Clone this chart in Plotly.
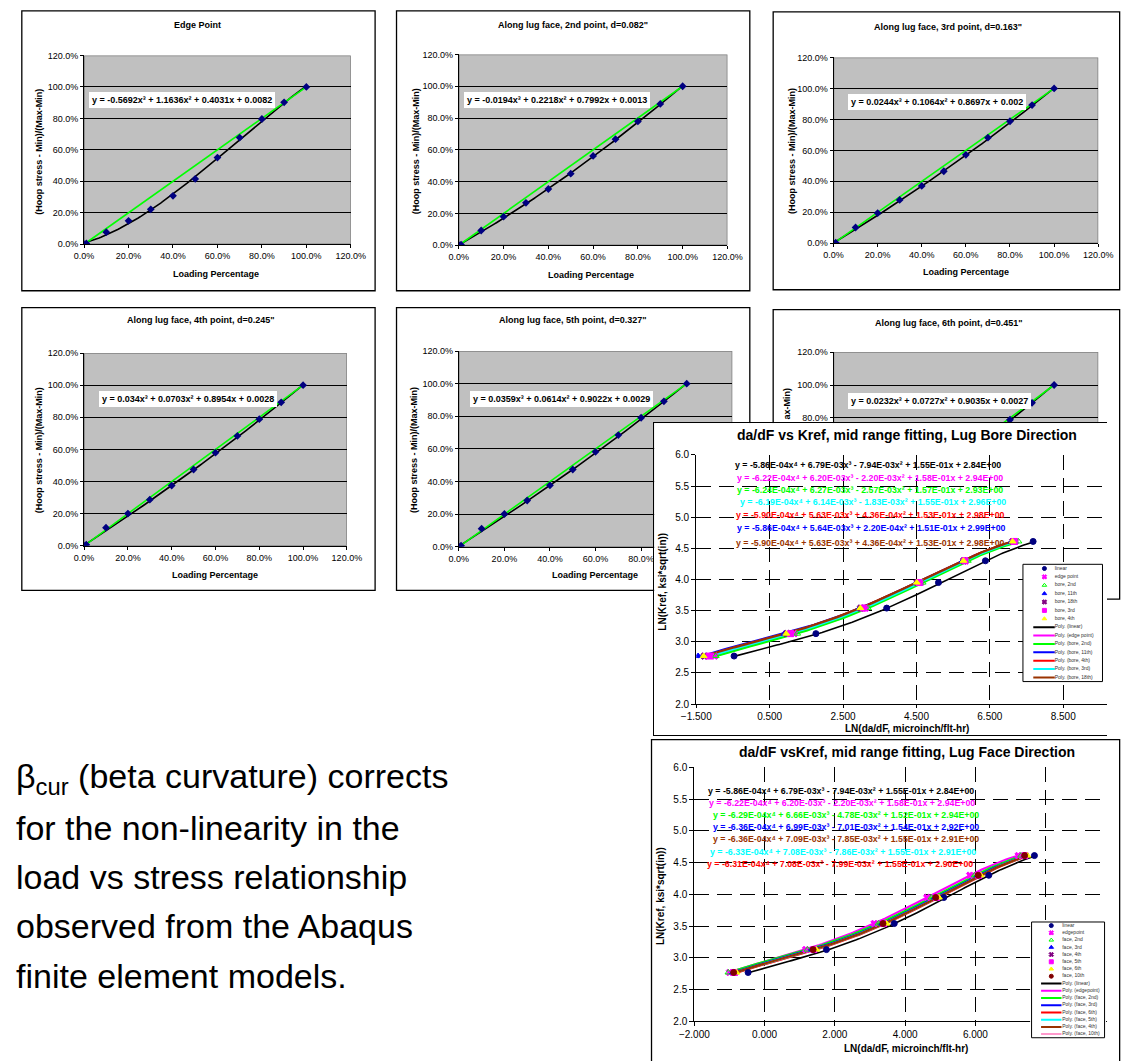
import numpy as np
import plotly.graph_objects as go

W, H = 1122, 1061
FONT = "Liberation Sans, Arial, Helvetica, sans-serif"

# ---------------------------------------------------------------------------
# Six small panels: normalised hoop stress vs loading percentage
# ---------------------------------------------------------------------------
load_pct = [0.0, 0.01, 0.1, 0.2, 0.3, 0.4, 0.5, 0.6, 0.7, 0.8, 0.9, 1.0]

edge_point_stress = [0.0, 0.005, 0.077, 0.149, 0.222, 0.308, 0.415, 0.551, 0.678, 0.796, 0.902, 1.0]
lug_2nd_stress = [0.0, 0.004, 0.093, 0.180, 0.267, 0.354, 0.450, 0.562, 0.667, 0.779, 0.889, 1.0]
lug_3rd_stress = [0.0, 0.004, 0.102, 0.195, 0.280, 0.370, 0.465, 0.571, 0.682, 0.788, 0.892, 1.0]
lug_4th_stress = [0.0, 0.007, 0.113, 0.201, 0.287, 0.375, 0.475, 0.580, 0.684, 0.788, 0.893, 1.0]
lug_5th_stress = [0.0, 0.007, 0.111, 0.201, 0.284, 0.377, 0.474, 0.582, 0.685, 0.791, 0.892, 1.0]
lug_6th_stress = [0.0, 0.006, 0.109, 0.200, 0.285, 0.376, 0.476, 0.581, 0.686, 0.789, 0.892, 1.0]

# cubic trendline coefficients (x^3, x^2, x, const)
edge_point_cubic = [-0.5692, 1.1636, 0.4031, 0.0082]
lug_2nd_cubic = [-0.0194, 0.2218, 0.7992, 0.0013]
lug_3rd_cubic = [0.0244, 0.1064, 0.8697, 0.002]
lug_4th_cubic = [0.034, 0.0703, 0.8954, 0.0028]
lug_5th_cubic = [0.0359, 0.0614, 0.9022, 0.0029]
lug_6th_cubic = [0.0232, 0.0727, 0.9035, 0.0027]

panel_titles = [
    "Edge Point",
    'Along lug face, 2nd point, d=0.082"',
    'Along lug face, 3rd point, d=0.163"',
    'Along lug face, 4th point, d=0.245"',
    'Along lug face, 5th point, d=0.327"',
    'Along lug face, 6th point, d=0.451"',
]

# percentage axis ticks
pct_ticks = [0.0, 0.2, 0.4, 0.6, 0.8, 1.0, 1.2]

# straight 1:1 reference line
linear_ref_x = [0.0, 1.0]
linear_ref_y = [0.0, 1.0]

# ---------------------------------------------------------------------------
# da/dF vs Kref charts
# ---------------------------------------------------------------------------
ln_kref = [2.77, 3.13, 3.54, 3.95, 4.30, 4.61]
linear_ln_dadf = [-0.47, 1.76, 3.69, 5.10, 6.38, 7.68]

bore_edge_point = [-1.00, 1.17, 3.12, 4.62, 5.84, 7.20]
bore_2nd = [-0.97, 1.25, 3.18, 4.67, 5.90, 7.28]
bore_11th = [-1.45, 0.90, 2.95, 4.50, 5.76, 7.10]
bore_18th = [-1.28, 0.97, 2.98, 4.52, 5.79, 7.13]
bore_3rd = [-1.15, 1.07, 3.06, 4.57, 5.82, 7.16]
bore_4th = [-1.30, 0.95, 2.97, 4.51, 5.78, 7.12]

face_edge_point = [-1.00, 1.17, 3.12, 4.62, 5.84, 7.22]
face_2nd = [-1.03, 1.22, 3.24, 4.75, 5.98, 7.30]
face_3rd = [-0.90, 1.35, 3.35, 4.85, 6.07, 7.40]
face_4th = [-0.85, 1.41, 3.40, 4.90, 6.10, 7.42]
face_5th = [-0.86, 1.40, 3.39, 4.89, 6.09, 7.41]
face_6th = [-0.80, 1.47, 3.47, 4.96, 6.15, 7.48]
face_10th = [-0.88, 1.38, 3.37, 4.87, 6.08, 7.40]

# quartic trendline coefficients (x^4 .. const)
poly_linear = [-5.86e-4, 6.79e-3, -7.94e-3, 1.55e-1, 2.84]
poly_edge_point = [-6.22e-4, 6.20e-3, -2.20e-3, 1.58e-1, 2.94]
poly_bore_2nd = [-6.24e-4, 6.27e-3, -2.57e-3, 1.57e-1, 2.93]
poly_bore_3rd = [-6.19e-4, 6.14e-3, -1.83e-3, 1.55e-1, 2.96]
poly_bore_4th = [-5.90e-4, 5.63e-3, 4.36e-4, 1.53e-1, 2.98]
poly_bore_11th = [-5.86e-4, 5.64e-3, 2.20e-4, 1.51e-1, 2.99]
poly_bore_18th = [-5.90e-4, 5.63e-3, 4.36e-4, 1.53e-1, 2.98]
poly_face_2nd = [-6.29e-4, 6.66e-3, -4.78e-3, 1.52e-1, 2.94]
poly_face_3rd = [-6.36e-4, 6.99e-3, -7.01e-3, 1.54e-1, 2.92]
poly_face_4th = [-6.36e-4, 7.09e-3, -7.85e-3, 1.55e-1, 2.91]
poly_face_5th = [-6.33e-4, 7.08e-3, -7.86e-3, 1.55e-1, 2.91]
poly_face_6th = [-6.31e-4, 7.08e-3, -7.99e-3, 1.55e-1, 2.90]

note_lines = [
    "β<sub>cur</sub> (beta curvature) corrects",
    "for the non-linearity in the",
    "load vs stress relationship",
    "observed from the Abaqus",
    "finite element models.",
]

# colours
NAVY, MAGENTA, GREEN, BLUE = "#000080", "#FF00FF", "#00FF00", "#0000FF"
RED, CYAN, BROWN, PURPLE = "#FF0000", "#00FFFF", "#993300", "#800080"
YELLOW, DARKRED, PINK, GRAY = "#FFFF00", "#800000", "#FF99CC", "#C0C0C0"


def px(x):
    return x / W


def py(y):
    return 1 - y / H


def ref(letter, n):
    return letter if n == 1 else f"{letter}{n}"


def axname(letter, n):
    return f"{letter}axis" if n == 1 else f"{letter}axis{n}"


def cubic_label(c):
    sup = ["x³", "x²", "x", ""]
    parts = []
    for i, (v, s) in enumerate(zip(c, sup)):
        t = f"{abs(v):g}{s}"
        if i == 0:
            parts.append(("-" if v < 0 else "") + t)
        else:
            parts.append(("- " if v < 0 else "+ ") + t)
    return "y = " + " ".join(parts)


def quartic_label(c):
    sup = ["x⁴", "x³", "x²", "x", ""]
    parts = []
    for i, (v, s) in enumerate(zip(c, sup)):
        t = f"{abs(v):.2E}{s}"
        if i == 0:
            parts.append(("-" if v < 0 else "") + t)
        else:
            parts.append(("- " if v < 0 else "+ ") + t)
    return "y = " + " ".join(parts)


annotations = []
shapes = []
layout_axes = {}
fig = go.Figure()


def ann(text, x, y, size, bold=False, color="black", angle=0,
        xanchor="center", yanchor="middle", bg=None, pad=1, border=1):
    a = dict(text=f"<b>{text}</b>" if bold else text, x=px(x), y=py(y),
             xref="paper", yref="paper", showarrow=False,
             font=dict(family=FONT, size=size, color=color),
             textangle=angle, xanchor=xanchor, yanchor=yanchor,
             borderpad=pad, borderwidth=border)
    if bg:
        a["bgcolor"] = bg
    annotations.append(a)


# ---------------------------------------------------------------------------
# small panels
# ---------------------------------------------------------------------------
panel_stress = [edge_point_stress, lug_2nd_stress, lug_3rd_stress,
                lug_4th_stress, lug_5th_stress, lug_6th_stress]
panel_cubic = [edge_point_cubic, lug_2nd_cubic, lug_3rd_cubic,
               lug_4th_cubic, lug_5th_cubic, lug_6th_cubic]

# xt / yt: axis title centres; xtick / ytick: ticks left uncovered by the bore chart
panel_geom = [
    dict(frame=(7, 5, 370, 288), plot=(71, 50, 345, 241), title=(188, 19),
         xt=(207, 271), yt=(25, 147), eq=(172, 95), xtick=7, ytick=0),
    dict(frame=(392, 5, 755, 288), plot=(456, 49, 732, 242), title=(573, 19),
         xt=(592, 272), yt=(412, 147), eq=(557, 95.5), xtick=7, ytick=0),
    dict(frame=(779, 6, 1135, 287), plot=(841, 52, 1113, 240), title=(959, 21),
         xt=(977, 269), yt=(799, 147), eq=(947, 97.5), xtick=7, ytick=0),
    dict(frame=(7, 305, 370, 591), plot=(71, 351, 341, 546), title=(191, 318),
         xt=(206, 576), yt=(25, 449), eq=(178, 397), xtick=7, ytick=0),
    dict(frame=(392, 305, 755, 591), plot=(456, 349, 737, 547), title=(573, 318),
         xt=(596, 576), yt=(410, 449), eq=(561, 397), xtick=5, ytick=0),
    dict(frame=(779, 307, 1135, 600), plot=(841, 350, 1113, 550), title=(960, 321),
         xt=None, yt=None, eq=(950, 399.5), xtick=0, ytick=4),
]

for i in range(6):
    n = i + 1
    g = panel_geom[i]
    xr, yr = ref("x", n), ref("y", n)
    fl, ft, fr, fb = g["frame"]
    shapes.append(dict(type="rect", xref="paper", yref="paper", layer="below",
                       x0=px(fl), x1=px(fr), y0=py(fb), y1=py(ft),
                       fillcolor="white", line=dict(color="black", width=1.3)))
    # grey plot area
    shapes.append(dict(type="rect", xref=xr, yref=yr, layer="below",
                       x0=0, x1=1.2, y0=0, y1=1.2, fillcolor=GRAY,
                       line=dict(color="#808080", width=1.5)))
    pl, pt, pr, pb = g["plot"]
    common = dict(range=[0, 1.2], tickformat=".1%",
                  showline=True, linecolor="black", linewidth=1,
                  ticks="outside", ticklen=3, tickcolor="black",
                  tickfont=dict(family=FONT, size=9, color="black"),
                  zeroline=False, fixedrange=True)
    x_ticks = pct_ticks[:g["xtick"]]
    layout_axes[axname("x", n)] = dict(common, domain=[px(pl), px(pr)],
                                       anchor=yr, showgrid=False,
                                       tickmode="array", tickvals=x_ticks,
                                       showticklabels=bool(x_ticks))
    layout_axes[axname("y", n)] = dict(common, domain=[py(pb), py(pt)],
                                       anchor=xr, showgrid=True,
                                       tickmode="array", tickvals=pct_ticks[g["ytick"]:],
                                       gridcolor="black", gridwidth=1)

    xs = np.linspace(min(load_pct), max(load_pct), 120)
    fig.add_trace(go.Scatter(x=xs, y=np.polyval(panel_cubic[i], xs), mode="lines",
                             line=dict(color="black", width=1.6),
                             xaxis=xr, yaxis=yr, hoverinfo="skip"))
    fig.add_trace(go.Scatter(x=linear_ref_x, y=linear_ref_y, mode="lines",
                             line=dict(color=GREEN, width=1.6),
                             xaxis=xr, yaxis=yr, hoverinfo="skip"))
    fig.add_trace(go.Scatter(x=load_pct, y=panel_stress[i], mode="markers",
                             marker=dict(symbol="diamond", size=6, color=NAVY),
                             xaxis=xr, yaxis=yr))

    ann(panel_titles[i], *g["title"], 9, bold=True)
    if g["xt"]:
        ann("Loading Percentage", *g["xt"], 9, bold=True)
    if g["yt"]:
        ann("(Hoop stress - Min)/(Max-Min)", *g["yt"], 9, bold=True, angle=-90)
    ann(cubic_label(panel_cubic[i]), *g["eq"], 9, bold=True, bg="white", pad=3,
        border=0)

# the remainder of this axis label is hidden behind the bore chart
ann("ax-Min)", 793, 384, 9, bold=True, angle=-90, yanchor="top")

# ---------------------------------------------------------------------------
# bore chart frame (subplot 7) - its background hides the panels below it
# ---------------------------------------------------------------------------
layout_axes["xaxis7"] = dict(domain=[px(657), 1], range=[0, 1], anchor="y7",
                             showline=True, mirror=True, linecolor="black", linewidth=1.3,
                             showgrid=False, zeroline=False, showticklabels=False,
                             ticks="", fixedrange=True)
layout_axes["yaxis7"] = dict(domain=[py(737), py(422)], range=[0, 1], anchor="x7",
                             showline=True, mirror=False, linecolor="black", linewidth=1.3,
                             showgrid=False, zeroline=False, showticklabels=False,
                             ticks="", fixedrange=True)
shapes.append(dict(type="rect", xref="x7", yref="y7", layer="below",
                   x0=-0.1, x1=1.1, y0=-0.1, y1=1.1, fillcolor="white",
                   line=dict(width=0)))
fig.add_trace(go.Scatter(x=[None], y=[None], xaxis="x7", yaxis="y7",
                         mode="markers", hoverinfo="skip"))


def kref_axes(n, xdom, ydom, xrange_, tick0, xticklen=4):
    grid = dict(showgrid=True, gridcolor="black", gridwidth=1.1,
                griddash="15px,8px", showline=True, linecolor="black",
                linewidth=1.2, ticks="outside", ticklen=4, tickcolor="black",
                tickfont=dict(family=FONT, size=10, color="black"),
                zeroline=False, fixedrange=True)
    layout_axes[axname("x", n)] = dict(grid, domain=xdom, range=xrange_,
                                       tick0=tick0, dtick=2, tickformat=".3f",
                                       anchor=f"y{n}", ticklen=xticklen)
    layout_axes[axname("y", n)] = dict(grid, domain=ydom, range=[2, 6],
                                       tick0=2, dtick=0.5, tickformat=".1f",
                                       anchor=f"x{n}")


# bore chart = subplot 8
kref_axes(8, [px(700), 1], [py(706), py(454)], [-1.5, -1.5 + (W - 700) / 37.7], -1.5,
          xticklen=3)
# face chart = subplot 9
kref_axes(9, [px(698), 1], [py(1027), py(770)], [-2.0, -2.0 + (W - 698) / 36.1], -2.0)

shapes.append(dict(type="rect", xref="paper", yref="paper", layer="below",
                   x0=px(654), x1=px(1135), y0=py(1070), y1=py(742),
                   fillcolor="white", line=dict(color="black", width=1.3)))


def trend(n, xdata, coeffs, color, width=2.0):
    xs = np.linspace(min(xdata), max(xdata), 120)
    fig.add_trace(go.Scatter(x=xs, y=np.polyval(coeffs, xs), mode="lines",
                             line=dict(color=color, width=width),
                             xaxis=f"x{n}", yaxis=f"y{n}", hoverinfo="skip"))


def points(n, xdata, symbol, color, size=6, line_color=None):
    fig.add_trace(go.Scatter(x=xdata, y=ln_kref, mode="markers",
                             marker=dict(symbol=symbol, size=size, color=color,
                                         line=dict(color=line_color or color, width=1)),
                             xaxis=f"x{n}", yaxis=f"y{n}"))


# --- bore direction ---
bore_points = [
    ("linear", linear_ln_dadf, "circle", NAVY),
    ("edge point", bore_edge_point, "x", MAGENTA),
    ("bore, 2nd", bore_2nd, "triangle-up-open", GREEN),
    ("bore, 11th", bore_11th, "triangle-up", BLUE),
    ("bore, 18th", bore_18th, "x", PURPLE),
    ("bore, 3rd", bore_3rd, "square", MAGENTA),
    ("bore, 4th", bore_4th, "triangle-up", YELLOW),
]
bore_trends = [
    ("Poly. (linear)", linear_ln_dadf, poly_linear, "black"),
    ("Poly. (edge point)", bore_edge_point, poly_edge_point, MAGENTA),
    ("Poly. (bore, 2nd)", bore_2nd, poly_bore_2nd, GREEN),
    ("Poly. (bore, 11th)", bore_11th, poly_bore_11th, BLUE),
    ("Poly. (bore, 4th)", bore_4th, poly_bore_4th, RED),
    ("Poly. (bore, 3rd)", bore_3rd, poly_bore_3rd, CYAN),
    ("Poly. (bore, 18th)", bore_18th, poly_bore_18th, BROWN),
]
for name, xd, coeffs, col in bore_trends:
    trend(8, xd, coeffs, col, 1.6 if col == "black" else 2.2)
for name, xd, sym, col in bore_points:
    points(8, xd, sym, col)

EQ_SIZE = 8.8
bore_eqs = [
    (poly_linear, "black", 876, 464),
    (poly_edge_point, MAGENTA, 878.5, 477.5),
    (poly_bore_2nd, GREEN, 879, 489.8),
    (poly_bore_3rd, CYAN, 882, 502),
    (poly_bore_4th, RED, 878.5, 514.5),
    (poly_bore_11th, BLUE, 880.5, 528),
    (poly_bore_18th, BROWN, 879.5, 543),
]
for coeffs, col, x, y in bore_eqs:
    ann(quartic_label(coeffs), x, y, EQ_SIZE, bold=True, color=col, pad=0, border=0)

ann("da/dF vs Kref, mid range fitting, Lug Bore Direction", 917, 434, 14, bold=True)
ann("LN(Kref, ksi*sqrt(in))", 665, 582, 10, bold=True, angle=-90)
ann("LN(da/dF, microinch/flt-hr)", 917, 730.5, 10, bold=True, pad=0, border=0)

# --- face direction ---
face_points = [
    ("linear", linear_ln_dadf, "circle", NAVY),
    ("edgepoint", face_edge_point, "x", MAGENTA),
    ("face, 2nd", face_2nd, "triangle-up-open", GREEN),
    ("face, 3rd", face_3rd, "triangle-up", BLUE),
    ("face, 4th", face_4th, "x", PURPLE),
    ("face, 5th", face_5th, "square", MAGENTA),
    ("face, 6th", face_6th, "triangle-up", YELLOW),
    ("face, 10th", face_10th, "circle", DARKRED),
]
face_trends = [
    ("Poly. (linear)", linear_ln_dadf, poly_linear, "black"),
    ("Poly. (edgepoint)", face_edge_point, poly_edge_point, MAGENTA),
    ("Poly. (face, 2nd)", face_2nd, poly_face_2nd, GREEN),
    ("Poly. (face, 3rd)", face_3rd, poly_face_3rd, BLUE),
    ("Poly. (face, 6th)", face_6th, poly_face_6th, RED),
    ("Poly. (face, 5th)", face_5th, poly_face_5th, CYAN),
    ("Poly. (face, 4th)", face_4th, poly_face_4th, BROWN),
]
# the 10th point has no printed equation, so its trend follows the points
fig.add_trace(go.Scatter(x=face_10th, y=ln_kref, mode="lines", line_shape="spline",
                         line=dict(color=PINK, width=2.2), xaxis="x9", yaxis="y9",
                         hoverinfo="skip"))
for name, xd, coeffs, col in face_trends:
    trend(9, xd, coeffs, col, 1.6 if col == "black" else 2.2)
for name, xd, sym, col in face_points:
    points(9, xd, sym, col)

face_eqs = [
    (poly_linear, "black", 849, 794),
    (poly_edge_point, MAGENTA, 849.5, 806),
    (poly_face_2nd, GREEN, 853.5, 818.5),
    (poly_face_3rd, BLUE, 853.5, 830.5),
    (poly_face_4th, BROWN, 853.5, 842.5),
    (poly_face_5th, CYAN, 851, 856),
    (poly_face_6th, RED, 848, 868),
]
for coeffs, col, x, y in face_eqs:
    ann(quartic_label(coeffs), x, y, EQ_SIZE, bold=True, color=col, pad=0, border=0)

ann("da/dF vsKref, mid range fitting, Lug Face Direction", 917, 755, 14, bold=True)
ann("LN(Kref, ksi*sqrt(in))", 664, 900, 10, bold=True, angle=-90)
ann("LN(da/dF, microinch/flt-hr)", 915, 1054, 10, bold=True, pad=0, border=0)


# ---------------------------------------------------------------------------
# compact legends drawn in their own small subplots (10: bore, 11: face)
# ---------------------------------------------------------------------------
def small_legend(n, box, point_rows, trend_rows, mark_x, line_x, text_x):
    l, t, r, b = box
    rows = len(point_rows) + len(trend_rows)
    layout_axes[axname("x", n)] = dict(domain=[px(l), px(r)], range=[-0.02, 1.02],
                                       anchor=f"y{n}", visible=False, fixedrange=True)
    layout_axes[axname("y", n)] = dict(domain=[py(b), py(t)], range=[rows + 0.2, -0.2],
                                       anchor=f"x{n}", visible=False, fixedrange=True)
    shapes.append(dict(type="rect", xref=f"x{n}", yref=f"y{n}", layer="below",
                       x0=0, x1=1, y0=0, y1=rows, fillcolor="white",
                       line=dict(color="black", width=1)))
    labels = []
    for k, (name, sym, col) in enumerate(point_rows):
        fig.add_trace(go.Scatter(x=[mark_x], y=[k + 0.5], mode="markers",
                                 marker=dict(symbol=sym, size=4, color=col,
                                             line=dict(color=col, width=1)),
                                 xaxis=f"x{n}", yaxis=f"y{n}", hoverinfo="skip"))
        labels.append(name)
    for j, (name, col) in enumerate(trend_rows):
        k = len(point_rows) + j
        fig.add_trace(go.Scatter(x=list(line_x), y=[k + 0.5, k + 0.5], mode="lines",
                                 line=dict(color=col, width=2),
                                 xaxis=f"x{n}", yaxis=f"y{n}", hoverinfo="skip"))
        labels.append(name)
    fig.add_trace(go.Scatter(x=[text_x] * rows, y=[k + 0.5 for k in range(rows)],
                             mode="text", text=labels, textposition="middle right",
                             textfont=dict(family=FONT, size=5, color="#333333"),
                             cliponaxis=False, xaxis=f"x{n}", yaxis=f"y{n}",
                             hoverinfo="skip"))


small_legend(10, (1034, 563, 1119, 685),
             [(nm, s, c) for nm, _, s, c in bore_points],
             [(nm, c) for nm, _, _, c in bore_trends],
             0.27, (0.13, 0.40), 0.40)
small_legend(11, (1043, 925, 1121, 1045),
             [(nm, s, c) for nm, _, s, c in face_points],
             [(nm, c) for nm, _, _, c in face_trends] + [("Poly. (face, 10th)", PINK)],
             0.27, (0.13, 0.41), 0.42)

# ---------------------------------------------------------------------------
# explanatory note
# ---------------------------------------------------------------------------
note_y = [781, 831, 881, 931, 981]
for line, y in zip(note_lines, note_y):
    ann(line, 0, y, 34, xanchor="left", border=0)

fig.update_traces(showlegend=False)
fig.update_layout(
    width=W, height=H, margin=dict(l=0, r=0, t=0, b=0),
    paper_bgcolor="white", plot_bgcolor="white", showlegend=False,
    font=dict(family=FONT, color="black"),
    annotations=annotations, shapes=shapes, hovermode=False,
    **layout_axes,
)
fig.write_html("out.html")
